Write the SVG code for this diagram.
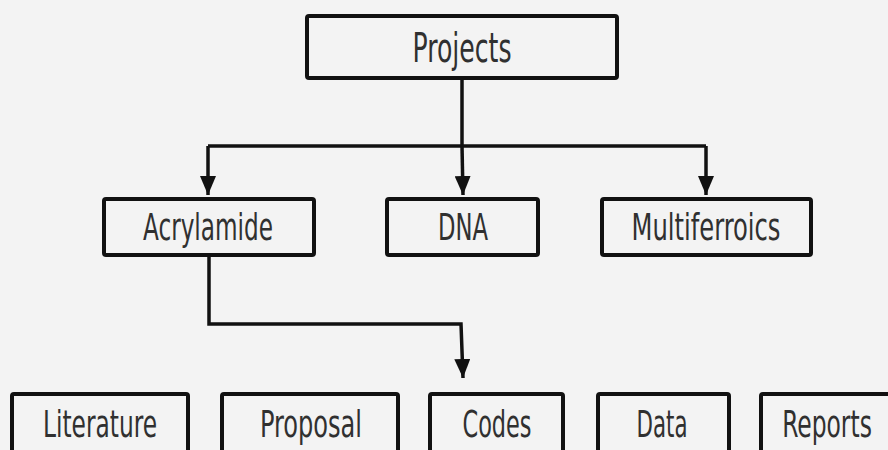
<svg xmlns="http://www.w3.org/2000/svg" width="888" height="450" viewBox="0 0 888 450">
<style>
.box{fill:#f3f3f3;stroke:#111;stroke-width:4;}
.lbl{font-family:"Liberation Sans Narrow","DejaVu Sans Condensed","Liberation Sans",sans-serif;fill:#303030;text-anchor:middle;font-size:38px;}
.big{font-size:41px;}
.conn{fill:none;stroke:#111;stroke-width:3.5;stroke-linejoin:miter;}
</style>
<defs>
<marker id="ah" markerUnits="userSpaceOnUse" markerWidth="20" markerHeight="16" viewBox="0 0 20 16" refX="19" refY="8" orient="auto">
<path d="M0 0 L19 8 L0 16 Z" fill="#111"/>
</marker>
</defs>
<rect x="0" y="0" width="888" height="450" fill="#f3f3f3"/>
<g id="connectors">
<path class="conn" d="M462 80 V146"/>
<path class="conn" d="M208 146 H706"/>
<path class="conn" d="M208 146 V195" marker-end="url(#ah)"/>
<path class="conn" d="M462 146 L463 195" marker-end="url(#ah)"/>
<path class="conn" d="M706 146 V195" marker-end="url(#ah)"/>
<path class="conn" d="M209 257 V324 H461 L463 378" marker-end="url(#ah)"/>
</g>
<g id="projects"><rect class="box" x="307" y="16" width="310" height="62" rx="2"/><text class="lbl big" x="462" y="62" textLength="99" lengthAdjust="spacingAndGlyphs">Projects</text></g>
<g id="acrylamide"><rect class="box" x="104" y="199" width="210" height="56" rx="2"/><text class="lbl" x="208" y="240" textLength="130" lengthAdjust="spacingAndGlyphs">Acrylamide</text></g>
<g id="dna"><rect class="box" x="387" y="199" width="151" height="56" rx="2"/><text class="lbl" x="463" y="240" textLength="50" lengthAdjust="spacingAndGlyphs">DNA</text></g>
<g id="multiferroics"><rect class="box" x="602" y="199" width="209" height="56" rx="2"/><text class="lbl" x="706" y="240" textLength="149" lengthAdjust="spacingAndGlyphs">Multiferroics</text></g>
<g id="literature"><rect class="box" x="12" y="394" width="176" height="60" rx="2"/><text class="lbl" x="100" y="437" textLength="114" lengthAdjust="spacingAndGlyphs">Literature</text></g>
<g id="proposal"><rect class="box" x="222" y="394" width="176" height="60" rx="2"/><text class="lbl" x="311" y="437" textLength="102" lengthAdjust="spacingAndGlyphs">Proposal</text></g>
<g id="codes"><rect class="box" x="430" y="394" width="133" height="60" rx="2"/><text class="lbl" x="497" y="437" textLength="69" lengthAdjust="spacingAndGlyphs">Codes</text></g>
<g id="data"><rect class="box" x="598" y="394" width="131" height="60" rx="2"/><text class="lbl" x="662" y="437" textLength="51" lengthAdjust="spacingAndGlyphs">Data</text></g>
<g id="reports"><rect class="box" x="761" y="394" width="134" height="60" rx="2"/><text class="lbl" transform="translate(827 437) scale(0.69 1)" x="0" y="0" textLength="130" lengthAdjust="spacingAndGlyphs">Reports</text></g>
</svg>
